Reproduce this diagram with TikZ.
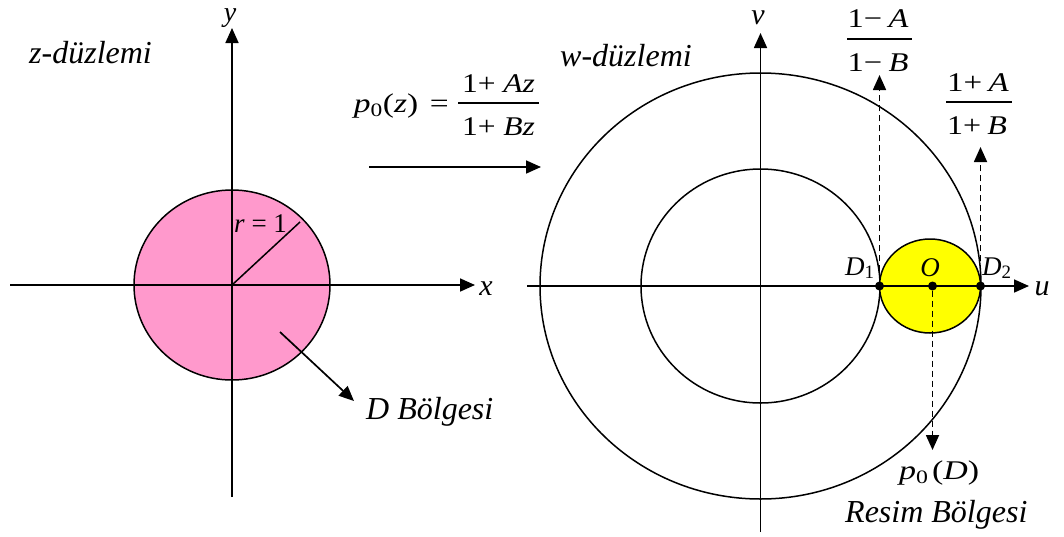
\documentclass[tikz,border=0pt]{standalone}
\usepackage{fontspec}
\setmainfont{Liberation Serif}
\usetikzlibrary{arrows.meta}
\definecolor{diskpink}{HTML}{FF99CC}
\definecolor{diskyellow}{HTML}{FFFF00}
\newcommand{\mtx}[2]{\resizebox{#1pt}{\height}{#2}}
\begin{document}
\begin{tikzpicture}[x=1pt,y=-1pt,
  tip/.style={-{Triangle[length=15pt,width=13pt]}},
  axisline/.style={line width=1.7pt},
  ring/.style={line width=1.5pt},
  dasharrow/.style={line width=1.7pt,dash pattern=on 6pt off 4pt,tip},
  solidarrow/.style={line width=1.7pt,tip},
  lbl/.style={font=\fontsize{32}{38}\selectfont\itshape,inner sep=0pt},
  axlbl/.style={font=\fontsize{30}{36}\selectfont\itshape,inner sep=0pt},
  mth/.style={font=\fontsize{27}{32}\selectfont,inner sep=0pt},
  dot/.style={circle,fill=black,inner sep=0pt,minimum size=9pt},
  fracline/.style={line width=1.2pt}]
\useasboundingbox (0,0) rectangle (1064,536);

% ---------- z-plane ----------
\coordinate (zO) at (232,285);
\coordinate (xL) at (10,285);
\coordinate (xR) at (475,285);
\coordinate (yB) at (232,497);
\coordinate (yT) at (232,28);
\coordinate (rEnd) at (300,222);
\draw[ring,fill=diskpink] (zO) ellipse [x radius=98pt,y radius=95pt];
\draw[axisline,tip] (xL) -- (xR);
\draw[axisline,tip] (yB) -- (yT);
\draw[line width=1.5pt] (zO) -- (rEnd);
\node[axlbl,anchor=base] (xlab) at (486,295) {x};
\node[axlbl,anchor=base,font=\fontsize{28}{34}\selectfont\itshape] (ylab) at (230,21.5) {y};
\node[lbl,anchor=base west] (zpl) at (29,63) {z-düzlemi};
\node[mth,anchor=base west] (rlab) at (234,232) {\textit{r}\hspace{0.25em}=\hspace{0.25em}1};
\coordinate (dStart) at (280,332);
\node[lbl,anchor=base west] (dB) at (366,419) {D Bölgesi};
\draw[solidarrow] (dStart) -- (354,401);

% ---------- mapping ----------
\node[mth,anchor=base] (n1) at (498.5,92) {\mtx{73}{1+ \textit{Az}}};
\node[mth,anchor=base] (d1) at (498.5,135) {\mtx{73}{1+ \textit{Bz}}};
\draw[fracline] (458,103) -- (539,103);
\node[mth,anchor=base east] (p0z) at (449,112) {\mtx{95}{\textit{p}\textsubscript{0}(\textit{z})\hspace{0.35em}=}};
\coordinate (mS) at (369,167);
\coordinate (mE) at (541,167);
\draw[solidarrow] (mS) -- (mE);

% ---------- w-plane ----------
\coordinate (wO) at (760.5,286);
\coordinate (uL) at (527,286);
\coordinate (uR) at (1029,286);
\coordinate (vB) at (760.5,532);
\coordinate (vT) at (760.5,33);
\draw[ring] (wO) ellipse [x radius=220.5pt,y radius=213pt];
\draw[ring] (wO) ellipse [x radius=119.5pt,y radius=117pt];
\draw[ring,fill=diskyellow] (930,286) ellipse [x radius=50.5pt,y radius=47pt];
\draw[axisline,tip] (uL) -- (uR);
\draw[axisline,tip] (vB) -- (vT);
\node[axlbl,anchor=base] (ulab) at (1042,295) {u};
\node[axlbl,anchor=base] (vlab) at (758,24) {v};
\node[lbl,anchor=base west] (wpl) at (560,66) {w-düzlemi};

\node[dot] (D1) at (879.5,286) {};
\node[dot] (O) at (932.5,286) {};
\node[dot] (D2) at (980.5,286) {};
\coordinate (D1top) at (879.5,75);
\coordinate (D2top) at (980.5,147);
\coordinate (Obot) at (932.5,450);
\draw[dasharrow] (D1) -- (D1top);
\draw[dasharrow] (D2) -- (D2top);
\draw[dasharrow] (O) -- (Obot);

\node[mth,anchor=base west] (D1lab) at (845,275) {\textit{D}\textsubscript{1}};
\node[mth,anchor=base] (Olab) at (930,276) {\textit{O}};
\node[mth,anchor=base west] (D2lab) at (982,275) {\textit{D}\textsubscript{2}};

% fraction (1-A)/(1-B)
\node[mth,anchor=base] (n2) at (878,27) {\mtx{61}{1−\hspace{0.2em}\textit{A}}};
\node[mth,anchor=base] (d2) at (878,71) {\mtx{61}{1−\hspace{0.2em}\textit{B}}};
\draw[fracline] (847,39) -- (912,39);
% fraction (1+A)/(1+B)
\node[mth,anchor=base] (n3) at (978,91) {\mtx{62}{1+\hspace{0.2em}\textit{A}}};
\node[mth,anchor=base] (d3) at (977,134) {\mtx{60}{1+\hspace{0.2em}\textit{B}}};
\draw[fracline] (946,102) -- (1012,102);

\node[mth,anchor=base west] (p0D) at (899,479) {\mtx{80}{\textit{p}\textsubscript{0}\hspace{0.1em}(\textit{D})}};
\node[lbl,anchor=base west] (res) at (845,522) {Resim Bölgesi};
\end{tikzpicture}
\end{document}
